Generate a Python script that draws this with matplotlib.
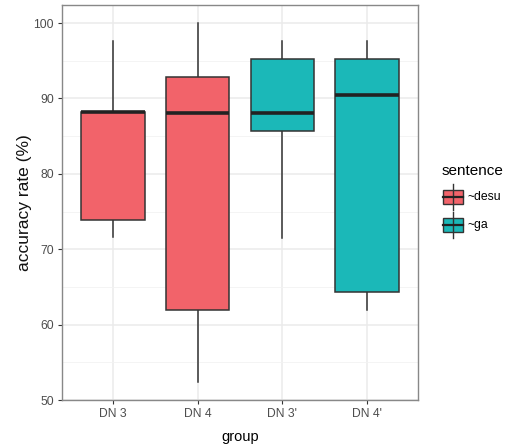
import matplotlib
matplotlib.use("Agg")
import matplotlib.pyplot as plt
from matplotlib.patches import Rectangle

plt.rcParams['font.family'] = ['Liberation Sans', 'DejaVu Sans']

# five-number summaries per group (accuracy rate, %)
groups = ["DN 3", "DN 4", "DN 3'", "DN 4'"]
sentence = ["~desu", "~desu", "~ga", "~ga"]
whisker_low = [71.6, 52.4, 71.5, 62.0]
q1 = [73.9, 62.0, 85.7, 64.3]
median = [88.2, 88.1, 88.1, 90.5]
q3 = [88.2, 92.8, 95.3, 95.3]
whisker_high = [97.6, 100.0, 97.6, 97.6]

fill = {"~desu": "#F2636A", "~ga": "#1BB8B8"}
edge = "#333333"

W, H = 507, 444
fig = plt.figure(figsize=(W / 100, H / 100), dpi=100)
ax = fig.add_axes([62 / W, 1 - 400 / H, (418 - 62) / W, (400 - 5) / H])

stats = []
for i, g in enumerate(groups):
    stats.append(dict(label=g, whislo=whisker_low[i], q1=q1[i], med=median[i],
                      q3=q3[i], whishi=whisker_high[i], fliers=[]))

bp = ax.bxp(stats, positions=range(1, len(groups) + 1), widths=0.75,
            patch_artist=True, showcaps=False,
            boxprops=dict(edgecolor=edge, linewidth=1.1),
            medianprops=dict(color="#222222", linewidth=2.6, solid_capstyle="butt"),
            whiskerprops=dict(color=edge, linewidth=1.1))
for patch, s in zip(bp["boxes"], sentence):
    patch.set_facecolor(fill[s])
for l in bp["whiskers"]:
    l.set_zorder(1)

ax.set_xlim(0.4, 4.6)
ax.set_ylim(50, 102.4)
ax.set_yticks([50, 60, 70, 80, 90, 100])
ax.set_yticks([55, 65, 75, 85, 95], minor=True)
ax.set_xticks(range(1, 5))
ax.set_xticklabels(groups)

ax.grid(True, which="major", color="#EBEBEB", linewidth=1.1)
ax.grid(True, which="minor", axis="y", color="#F2F2F2", linewidth=0.6)
ax.set_axisbelow(True)
for sp in ax.spines.values():
    sp.set_color("#888888")
    sp.set_linewidth(1.0)
ax.tick_params(which="major", length=3, color="#333333", labelsize=8.7,
               labelcolor="#4D4D4D", pad=3)
ax.tick_params(which="minor", length=0)

ax.set_xlabel("group", fontsize=10.5, color="black", labelpad=7)
ax.set_ylabel("accuracy rate (%)", fontsize=12.5, color="#111111", labelpad=1)

# legend drawn with boxplot-style keys
fig.text(442 / W, 1 - 171 / H, "sentence", fontsize=11, va="center", ha="left")
for name, y in [("~desu", 197), ("~ga", 225)]:
    kx, kw = 443, 20
    fig.add_artist(plt.Line2D([(kx + kw / 2) / W] * 2, [1 - (y - 13) / H, 1 - (y + 13) / H],
                              color=edge, linewidth=1.0, transform=fig.transFigure))
    fig.add_artist(Rectangle((kx / W, 1 - (y + 7) / H), kw / W, 14 / H,
                             facecolor=fill[name], edgecolor=edge, linewidth=1.0,
                             transform=fig.transFigure))
    fig.add_artist(plt.Line2D([kx / W, (kx + kw) / W], [1 - y / H] * 2,
                              color="#222222", linewidth=1.6, transform=fig.transFigure))
    fig.text(467 / W, 1 - y / H, name, fontsize=8.8, va="center", ha="left", color="black")

fig.savefig("out.png", dpi=100)
